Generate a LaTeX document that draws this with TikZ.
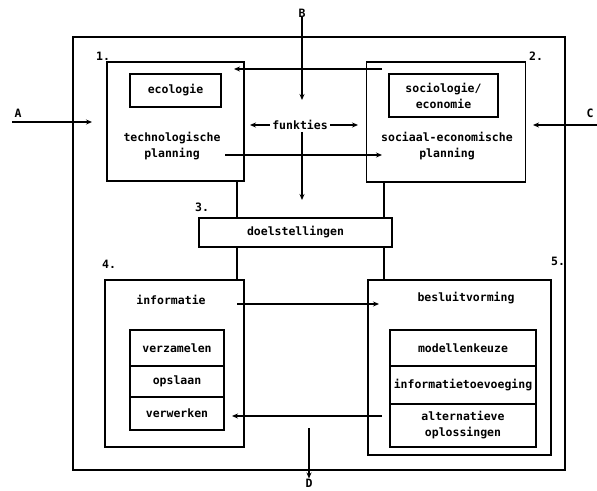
\documentclass[tikz,border=0pt]{standalone}
\usepackage{fontspec}
\setmonofont{DejaVu Sans Mono}
\usetikzlibrary{positioning,arrows.meta}

\newcommand{\diagfont}{\fontsize{11.5}{16}\selectfont\ttfamily\bfseries}

\begin{document}
\begin{tikzpicture}[x=1pt,y=-1pt]
	% Define styles for boxes and connectors
	\tikzset{
		box/.style={draw, line width=1.5pt, inner sep=0pt},
		subbox/.style={draw, line width=1.3pt, inner sep=0pt, outer sep=0pt, align=center, font=\diagfont},
		txt/.style={align=center, inner sep=2pt, font=\diagfont},
		arr/.style={-{Stealth[length=6pt,width=5pt]}, line width=1.1pt},
		link/.style={line width=1.3pt}
	}
	\useasboundingbox (0,0) rectangle (597,490);
	
	% Outer frame
	\node[box, minimum width=492pt, minimum height=433pt] (frame) at (319,253.5) {};
	
	% Box 1: technologische planning
	\node[box, minimum width=137pt, minimum height=119pt] (box1) at (175.5,121.5) {};
	\node[subbox, minimum width=91pt, minimum height=33pt] (ecol) at (175.5,90.5) {ecologie};
	\node[txt] (tech) at (172,146.5) {technologische\\planning};
	\node[txt, anchor=south west] (n1) at (94,63) {1.};
	
	% Box 2: sociaal-economische planning
	\node[box, minimum width=159pt, minimum height=120pt] (box2) at (446,122) {};
	\node[subbox, minimum width=109pt, minimum height=43pt] (soc) at (443.5,95.5) {sociologie/\\economie};
	\node[txt] (socec) at (447,146) {sociaal-economische\\planning};
	\node[txt, anchor=south west] (n2) at (527,63) {2.};
	
	% Box 3: doelstellingen
	\node[box, minimum width=193pt, minimum height=29pt] (doel) at (295.5,232.5) {};
	\node[txt] at (doel) {doelstellingen};
	\node[txt, anchor=south west] (n3) at (193,214) {3.};
	
	% Box 4: informatie
	\node[box, minimum width=139pt, minimum height=167pt] (box4) at (174.5,363.5) {};
	\node[txt] (info) at (171,300) {informatie};
	\node[subbox, minimum width=94pt, minimum height=36pt] (verz) at (177,348) {verzamelen};
	\node[subbox, minimum width=94pt, minimum height=31pt, below=0pt of verz] (opsl) {opslaan};
	\node[subbox, minimum width=94pt, minimum height=33pt, below=0pt of opsl] (verw) {verwerken};
	\node[txt, anchor=south west] (n4) at (100,271) {4.};
	
	% Box 5: besluitvorming
	\node[box, minimum width=183pt, minimum height=175pt] (box5) at (459.5,367.5) {};
	\node[txt] (besl) at (466,298) {besluitvorming};
	\node[subbox, minimum width=146pt, minimum height=36pt] (mod) at (463,348) {modellenkeuze};
	\node[subbox, minimum width=146pt, minimum height=38pt, below=0pt of mod] (toev) {informatietoevoeging};
	\node[subbox, minimum width=146pt, minimum height=43pt, below=0pt of toev] (alt) {alternatieve\\oplossingen};
	\node[txt, anchor=south west] (n5) at (549,268) {5.};
	
	% Links between the boxes and doelstellingen
	\coordinate (colL) at (237,0);
	\coordinate (colR) at (384,0);
	\draw[link] (box1.south -| colL) -- (doel.north -| colL);
	\draw[link] (box2.south -| colR) -- (doel.north -| colR);
	\draw[link] (doel.south -| colL) -- (box4.north -| colL);
	\draw[link] (doel.south -| colR) -- (box5.north -| colR);
	
	% Inputs A, B, C and output D
	\node[txt] (A) at (18,113) {A};
	\coordinate (a0) at (12,122);
	\coordinate (a1) at (92,122);
	\draw[arr] (a0) -- (a1);
	
	\node[txt, inner sep=0pt] (B) at (302,13) {B};
	\coordinate (b1) at (302,100);
	\draw[arr] (B.south) -- (b1);
	
	\node[txt] (C) at (590,113) {C};
	\coordinate (c0) at (597,125);
	\coordinate (c1) at (533,125);
	\draw[arr] (c0) -- (c1);
	
	\coordinate (d0) at (309,428);
	\node[txt, inner sep=0pt, anchor=north] (D) at (309,478.5) {D};
	\draw[arr] (d0) -- (D.north);
	
	% funkties in the middle
	\node[txt] (funk) at (300,125) {funkties};
	\coordinate (fL) at (250,125);
	\coordinate (fR) at (358,125);
	\coordinate (fD) at (302,200);
	\draw[arr] (funk) -- (fL);
	\draw[arr] (funk) -- (fR);
	\draw[arr] (funk.south -| fD) -- (fD);
	
	% Arrows between the boxes
	\coordinate (t0) at (382,69);
	\coordinate (t1) at (234,69);
	\draw[arr] (t0) -- (t1);
	\coordinate (m0) at (225,155);
	\coordinate (m1) at (382,155);
	\draw[arr] (m0) -- (m1);
	\coordinate (i0) at (237,304);
	\coordinate (i1) at (379,304);
	\draw[arr] (i0) -- (i1);
	\coordinate (r0) at (382,416);
	\coordinate (r1) at (232,416);
	\draw[arr] (r0) -- (r1);
\end{tikzpicture}
\end{document}
